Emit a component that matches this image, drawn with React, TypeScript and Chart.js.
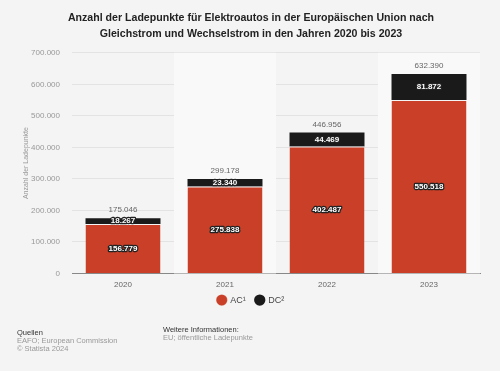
import React, { useEffect, useRef } from "react";
import { Chart, registerables } from "chart.js";

Chart.register(...registerables);

const years = ["2020", "2021", "2022", "2023"];
const acValues = [156779, 275838, 402487, 550518];
const dcValues = [18267, 23340, 44469, 81872];
const totals = [175046, 299178, 446956, 632390];
const yTicks = [0, 100000, 200000, 300000, 400000, 500000, 600000, 700000];

const fmt = (v: number) => v.toLocaleString("de-DE");
const FONT = "'Liberation Sans', Arial, sans-serif";
const LEGEND_PAD = 10;

const bandsPlugin = {
  id: "bands",
  beforeDatasetsDraw(chart: any) {
    const { ctx, chartArea, scales } = chart;
    const x = scales.x;
    ctx.save();
    ctx.fillStyle = "#f9f9f9";
    years.forEach((_, i) => {
      if (i % 2 === 1) {
        const c = x.getPixelForValue(i);
        const w = (chartArea.right - chartArea.left) / years.length;
        ctx.fillRect(c - w / 2, chartArea.top, w, chartArea.bottom - chartArea.top);
      }
    });
    ctx.restore();
  },
  beforeDraw(chart: any) {
    const { ctx, width, height } = chart;
    ctx.save();
    ctx.fillStyle = "#f4f4f4";
    ctx.fillRect(0, 0, width, height);
    ctx.restore();
    const lg = chart.legend;
    if (lg) {
      const h = lg.bottom - lg.top;
      const top = 301 - LEGEND_PAD - 5.4;
      lg.top = top;
      lg.bottom = top + h;
    }
  },
};

const labelPlugin = {
  id: "labels",
  afterDatasetsDraw(chart: any) {
    const { ctx } = chart;
    const m0 = chart.getDatasetMeta(0);
    const m1 = chart.getDatasetMeta(1);
    ctx.save();
    ctx.textAlign = "center";
    ctx.textBaseline = "middle";
    const inside = (text: string, x: number, y: number) => {
      ctx.font = `bold 8px ${FONT}`;
      ctx.lineWidth = 2.5;
      ctx.strokeStyle = "#222";
      ctx.lineJoin = "round";
      ctx.strokeText(text, x, y);
      ctx.fillStyle = "#ffffff";
      ctx.fillText(text, x, y);
    };
    years.forEach((_, i) => {
      const b0 = m0.data[i];
      const b1 = m1.data[i];
      inside(fmt(acValues[i]), b0.x, (b0.y + b0.base) / 2);
      inside(fmt(dcValues[i]), b1.x, (b1.y + b1.base) / 2);
      ctx.font = `8px ${FONT}`;
      ctx.fillStyle = "#666";
      ctx.fillText(fmt(totals[i]), b1.x, b1.y - 8);
    });
    ctx.restore();
  },
};

export default function App() {
  const ref = useRef<HTMLCanvasElement>(null);
  useEffect(() => {
    const chart = new Chart(ref.current!, {
      type: "bar",
      data: {
        labels: years,
        datasets: [
          {
            label: "AC¹",
            data: acValues,
            backgroundColor: "#c93f27",
            borderColor: "#f4f4f4",
            borderWidth: { top: 1, left: 0, right: 0, bottom: 0 },
            borderSkipped: false,
            barPercentage: 0.735,
            categoryPercentage: 1,
          },
          {
            label: "DC²",
            data: dcValues,
            backgroundColor: "#1a1a1a",
            borderWidth: 0,
            barPercentage: 0.735,
            categoryPercentage: 1,
          },
        ],
      },
      options: {
        animation: false,
        responsive: false,
        layout: { padding: { left: 22, right: 20, top: 0, bottom: 45 } },
        plugins: {
          title: {
            display: true,
            text: [
              "Anzahl der Ladepunkte für Elektroautos in der Europäischen Union nach",
              "Gleichstrom und Wechselstrom in den Jahren 2020 bis 2023",
            ],
            font: { family: FONT, size: 10.6, weight: "bold", lineHeight: 1.5 },
            color: "#222",
            padding: { top: 10, bottom: 11 },
          },
          legend: {
            position: "bottom",
            labels: {
              usePointStyle: true,
              pointStyle: "circle",
              boxWidth: 8,
              boxHeight: 8,
              font: { family: FONT, size: 9 },
              color: "#444",
              padding: LEGEND_PAD,
            },
          },
          tooltip: { enabled: false },
        },
        scales: {
          x: {
            stacked: true,
            grid: { display: false, drawTicks: false },
            border: { display: true, color: "#888", width: 1 },
            ticks: { font: { family: FONT, size: 8 }, color: "#666", padding: 7 },
          },
          y: {
            stacked: true,
            min: 0,
            max: 700000,
            afterBuildTicks: (s: any) => {
              s.ticks = yTicks.map((v) => ({ value: v }));
            },
            afterFit: (s: any) => {
              s.width = 50;
            },
            grid: { color: "#e3e3e3", drawTicks: false },
            border: { display: false },
            ticks: {
              font: { family: FONT, size: 8 },
              color: "#999",
              padding: 12,
              callback: (v: any) => fmt(Number(v)),
            },
            title: {
              display: true,
              text: "Anzahl der Ladepunkte",
              font: { family: FONT, size: 7 },
              color: "#999",
              padding: { top: 0, bottom: 0 },
            },
          },
        },
      },
      plugins: [bandsPlugin, labelPlugin],
    } as any);
    return () => chart.destroy();
  }, []);

  const small: React.CSSProperties = { fontSize: 7.5, color: "#999", lineHeight: "8px" };
  return (
    <div
      style={{
        position: "fixed",
        left: 0,
        top: 0,
        width: 500,
        height: 371,
        background: "#f4f4f4",
        fontFamily: FONT,
      }}
    >
      <canvas ref={ref} width={500} height={371} style={{ display: "block" }} />
      <div style={{ position: "absolute", left: 17, top: 328 }}>
        <div style={{ fontSize: 7.5, color: "#333", lineHeight: "9px" }}>Quellen</div>
        <div style={small}>EAFO; European Commission</div>
        <div style={small}>© Statista 2024</div>
      </div>
      <div style={{ position: "absolute", left: 163, top: 325 }}>
        <div style={{ fontSize: 7.5, color: "#333", lineHeight: "9px" }}>Weitere Informationen:</div>
        <div style={small}>EU; öffentliche Ladepunkte</div>
      </div>
    </div>
  );
}
